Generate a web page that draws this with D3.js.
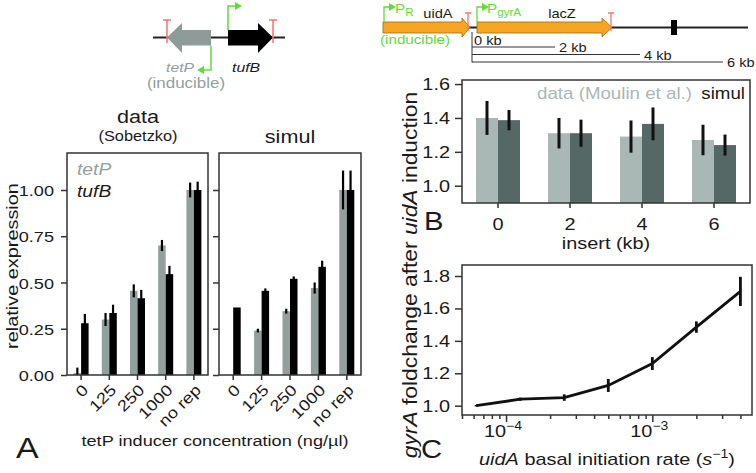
<!DOCTYPE html>
<html>
<head>
<meta charset="utf-8">
<script src="https://cdn.jsdelivr.net/npm/d3@7"></script>
<style>
  body { margin: 0; background: #fff; }
  svg { display: block; }
  text { font-family: "Liberation Sans", Arial, Helvetica, sans-serif; }
</style>
</head>
<body>
<svg id="fig" width="756" height="473"></svg>
<script>
// ---- panel A : tetP / tufB expression ----
const concLabels = ["0", "125", "250", "1000", "no rep"];
const dataTetP = [0.01, 0.30, 0.455, 0.70, 1.00];
const dataTetPErr = [0.03, 0.035, 0.035, 0.03, 0.04];
const dataTufB = [0.28, 0.335, 0.415, 0.545, 1.00];
const dataTufBErr = [0.05, 0.045, 0.045, 0.045, 0.045];
const simTetP = [0, 0.24, 0.345, 0.47, 1.00];
const simTetPErr = [0, 0.01, 0.013, 0.03, 0.105];
const simTufB = [0.365, 0.455, 0.52, 0.585, 1.00];
const simTufBErr = [0, 0.013, 0.013, 0.033, 0.105];
const yTicksA = [0, 0.25, 0.5, 0.75, 1.0];

// ---- panel B : gyrA foldchange vs insert size ----
const insertKb = ["0", "2", "4", "6"];
const moulinData = [1.40, 1.31, 1.29, 1.27];
const moulinErr = [0.10, 0.09, 0.095, 0.09];
const simulB = [1.387, 1.31, 1.365, 1.24];
const simulBErr = [0.06, 0.08, 0.097, 0.062];
const yTicksB = [1.0, 1.2, 1.4, 1.6];

// ---- panel C : gyrA foldchange vs uidA basal rate ----
const basalRate = [6.25e-5, 1.25e-4, 2.5e-4, 5e-4, 1e-3, 2e-3, 4e-3];
const gyrAFold = [1.0, 1.04, 1.05, 1.125, 1.26, 1.485, 1.705];
const gyrAErr = [0.005, 0.01, 0.02, 0.04, 0.04, 0.035, 0.09];
const yTicksC = [1.0, 1.2, 1.4, 1.6, 1.8];
const majorC = [1e-4, 1e-3];

const svg = d3.select("#fig");
const INK = "#1a1a1a", FRAME = "#333";
const GRAY_A = "#92a09d", LIGHT_B = "#a9b8b5", DARK_B = "#566866";
const GREEN = "#5fdc3c", RED = "#ff7070", ORANGE = "#f6a623";
const SX = 1.17; // text in the figure is set wide

function txt(g, x, y, parts, o = {}) {
  const t = g.append("text")
    .attr("transform", `translate(${x},${y}) rotate(${o.rot || 0}) scale(${SX},1)`)
    .attr("text-anchor", o.anchor || "start")
    .attr("font-size", o.size || 16)
    .attr("fill", o.fill || INK);
  let shift = 0;
  (Array.isArray(parts) ? parts : [parts]).forEach(p => {
    if (typeof p === "string") p = { s: p };
    const target = p.up ? -p.up : (p.down || 0);
    const span = t.append("tspan").text(p.s).attr("dy", target - shift);
    shift = target;
    if (p.it) span.attr("font-style", "italic");
    if (p.size) span.attr("font-size", p.size);
  });
  return t;
}

function frame(g, x0, x1, y0, y1) {
  g.append("rect").attr("x", x0).attr("y", y0)
    .attr("width", x1 - x0).attr("height", y1 - y0)
    .attr("fill", "none").attr("stroke", FRAME).attr("stroke-width", 1.5);
}

function styleAxis(sel) {
  sel.select(".domain").remove();
  sel.selectAll(".tick line").attr("stroke", FRAME).attr("stroke-width", 1.5);
  sel.selectAll(".tick text").remove();
}

function tri(g, x, y, dir, col) {
  const s = 4;
  const pts = dir > 0
    ? [[x, y - s], [x + 7, y], [x, y + s]]
    : [[x, y - s], [x - 7, y], [x, y + s]];
  g.append("polygon").attr("points", pts.join(" ")).attr("fill", col);
}

// ================= panel A =================
const gA = svg.append("g");
const yA = d3.scaleLinear().domain([0, 1.2]).range([375, 153]);

const panelsA = [
  { x0: 67, x1: 208, tet: dataTetP, tetE: dataTetPErr, tuf: dataTufB, tufE: dataTufBErr, labels: true },
  { x0: 219, x1: 361, tet: simTetP, tetE: simTetPErr, tuf: simTufB, tufE: simTufBErr, labels: false }
];

panelsA.forEach(p => {
  const x = d3.scaleBand().domain(concLabels).range([p.x0, p.x1]);
  const xs = d3.scaleBand().domain(["tetP", "tufB"]).range([-7.5, 7.5]);
  const cx = i => x(concLabels[i]) + x.bandwidth() / 2;
  const series = [["tetP", p.tet, p.tetE, GRAY_A], ["tufB", p.tuf, p.tufE, "#000"]];

  series.forEach(([key, vals, errs, col]) => {
    gA.append("g").selectAll("rect").data(vals).join("rect")
      .attr("x", (d, i) => cx(i) + xs(key))
      .attr("width", xs.bandwidth())
      .attr("y", d => yA(d))
      .attr("height", d => yA(0) - yA(d))
      .attr("fill", col);
  });
  series.forEach(([key, vals, errs]) => {
    gA.append("g").selectAll("line").data(vals.map((v, i) => ({ v, e: errs[i], i })).filter(d => d.e > 0))
      .join("line")
      .attr("x1", d => cx(d.i) + xs(key) + xs.bandwidth() / 2)
      .attr("x2", d => cx(d.i) + xs(key) + xs.bandwidth() / 2)
      .attr("y1", d => yA(Math.max(0, d.v - d.e)))
      .attr("y2", d => yA(d.v + d.e))
      .attr("stroke", "#000").attr("stroke-width", 2.2);
  });

  frame(gA, p.x0, p.x1, 153, 375);

  gA.append("g").attr("transform", `translate(${p.x0},0)`)
    .call(d3.axisLeft(yA).tickValues(yTicksA).tickSize(6))
    .call(styleAxis);
  gA.append("g").attr("transform", "translate(0,375)")
    .call(d3.axisBottom(x).tickSize(5))
    .call(styleAxis);

  if (p.labels) {
    yTicksA.forEach(v => txt(gA, 54, yA(v) + 6, d3.format(".2f")(v), { anchor: "end", size: 15.5 }));
  }
  concLabels.forEach((lab, i) => txt(gA, cx(i) + 8, 391, lab, { rot: -45, anchor: "end", size: 15.7 }));
});

txt(gA, 138, 123, "data", { anchor: "middle", size: 18.5 });
txt(gA, 138, 141, "(Sobetzko)", { anchor: "middle", size: 14 });
txt(gA, 290, 143, "simul", { anchor: "middle", size: 18.5 });
txt(gA, 77, 175, { s: "tetP", it: true }, { size: 16.5, fill: GRAY_A });
txt(gA, 77, 197, { s: "tufB", it: true }, { size: 16.5 });
txt(gA, 18, 266, "relative expression", { rot: -90, anchor: "middle", size: 17 });
txt(gA, 215, 446, "tetP inducer concentration (ng/\u00b5l)", { anchor: "middle", size: 15.5 });
txt(gA, 16, 458, "A", { size: 29 });

// gene diagram A
const dA = svg.append("g");
dA.append("line").attr("x1", 153).attr("x2", 285).attr("y1", 37.5).attr("y2", 37.5)
  .attr("stroke", "#222").attr("stroke-width", 2);
dA.append("polygon").attr("points", "167,37.5 182,23 182,30 211,30 211,45.5 182,45.5 182,53").attr("fill", "#8f9b99");
dA.append("polygon").attr("points", "228,30 258,30 258,23 273,37.5 258,53 258,45.5 228,45.5").attr("fill", "#000");
[167, 273].forEach(x => {
  dA.append("path").attr("d", `M${x},43V20M${x - 4},20H${x + 4}`).attr("stroke", RED).attr("stroke-width", 1.5).attr("fill", "none");
});
dA.append("path").attr("d", "M228,30V6H236").attr("stroke", GREEN).attr("stroke-width", 1.5).attr("fill", "none");
tri(dA, 235, 6, 1, GREEN);
dA.append("path").attr("d", "M211,45.5V70H203").attr("stroke", GREEN).attr("stroke-width", 1.5).attr("fill", "none");
tri(dA, 204, 70, -1, GREEN);
txt(dA, 166, 72, { s: "tetP", it: true }, { size: 13.5, fill: GRAY_A });
txt(dA, 186, 88, "(inducible)", { anchor: "middle", size: 14.5, fill: GRAY_A });
txt(dA, 232, 72, { s: "tufB", it: true }, { size: 13.5 });

// ================= panel B =================
const gB = svg.append("g");
const xB = d3.scaleBand().domain(insertKb).range([462, 750]);
const xsB = d3.scaleBand().domain(["data", "simul"]).range([-22, 22]);
const yB = d3.scaleLinear().domain([0.898, 1.624]).range([203, 80]);
const seriesB = [["data", moulinData, moulinErr, LIGHT_B], ["simul", simulB, simulBErr, DARK_B]];
const cxB = i => xB(insertKb[i]) + xB.bandwidth() / 2;

seriesB.forEach(([key, vals, errs, col]) => {
  gB.append("g").selectAll("rect").data(vals).join("rect")
    .attr("x", (d, i) => cxB(i) + xsB(key))
    .attr("width", xsB.bandwidth())
    .attr("y", d => yB(d))
    .attr("height", d => yB.range()[0] - yB(d))
    .attr("fill", col);
});
seriesB.forEach(([key, vals, errs]) => {
  gB.append("g").selectAll("line").data(vals).join("line")
    .attr("x1", (d, i) => cxB(i) + xsB(key) + xsB.bandwidth() / 2)
    .attr("x2", (d, i) => cxB(i) + xsB(key) + xsB.bandwidth() / 2)
    .attr("y1", (d, i) => yB(d - errs[i]))
    .attr("y2", (d, i) => yB(d + errs[i]))
    .attr("stroke", "#111").attr("stroke-width", 3);
});
frame(gB, 462, 750, 80, 203);
gB.append("g").attr("transform", "translate(462,0)")
  .call(d3.axisLeft(yB).tickValues(yTicksB).tickSize(7)).call(styleAxis);
gB.append("g").attr("transform", "translate(0,203)")
  .call(d3.axisBottom(xB).tickSize(5)).call(styleAxis);
yTicksB.forEach(v => txt(gB, 450, yB(v) + 6, d3.format(".1f")(v), { anchor: "end", size: 17 }));
insertKb.forEach((k, i) => txt(gB, cxB(i), 230, k, { anchor: "middle", size: 17 }));
txt(gB, 606, 249, "insert (kb)", { anchor: "middle", size: 17 });
txt(gB, 692, 99, "data (Moulin et al.)", { anchor: "end", size: 16, fill: LIGHT_B });
txt(gB, 745, 99, "simul", { anchor: "end", size: 16 });
txt(gB, 424, 230, "B", { size: 25 });

// gene diagram B
const dB = svg.append("g");
dB.append("line").attr("x1", 383).attr("x2", 748).attr("y1", 27.5).attr("y2", 27.5)
  .attr("stroke", "#222").attr("stroke-width", 2);
[[383, 462, 470], [477, 602, 612]].forEach(([a, b, tip]) => {
  dB.append("polygon")
    .attr("points", `${a},22 ${b},22 ${b},18 ${tip},27.5 ${b},37 ${b},33 ${a},33`)
    .attr("fill", ORANGE).attr("stroke", "#a26a0c").attr("stroke-width", 0.8);
});
[468, 611].forEach(x => {
  dB.append("path").attr("d", `M${x},31V13M${x - 3},13H${x + 3}`).attr("stroke", RED).attr("stroke-width", 1.3).attr("fill", "none");
});
dB.append("rect").attr("x", 671).attr("y", 20).attr("width", 6).attr("height", 15).attr("fill", "#000");
[384, 477].forEach(x => {
  dB.append("path").attr("d", `M${x},22V7H${x + 5}`).attr("stroke", GREEN).attr("stroke-width", 1.3).attr("fill", "none");
  tri(dB, x + 5, 7, 1, GREEN);
});
txt(dB, 395, 13, ["P", { s: "R", down: 3, size: 10 }], { size: 13, fill: GREEN });
txt(dB, 487, 13, ["P", { s: "gyrA", down: 3, size: 10 }], { size: 13, fill: GREEN });
txt(dB, 380, 44, "(inducible)", { size: 13, fill: GREEN });
txt(dB, 438, 18, "uidA", { anchor: "middle", size: 12.5 });
txt(dB, 562, 18, "lacZ", { anchor: "middle", size: 12.5 });
dB.append("path").attr("d", "M472,32V62.5").attr("stroke", "#333").attr("stroke-width", 1);
[[47, 555, "2 kb", 52], [54.5, 640, "4 kb", 59.5], [62, 723, "6 kb", 67]].forEach(([y, x2, lab, by]) => {
  dB.append("line").attr("x1", 472).attr("x2", x2).attr("y1", y).attr("y2", y).attr("stroke", "#333").attr("stroke-width", 1);
  txt(dB, x2 + 4, by, lab, { size: 12.5 });
});
txt(dB, 474, 45, "0 kb", { size: 12.5 });

// ================= panel C =================
const gC = svg.append("g");
const xC = d3.scaleLog().domain([5e-5, 4.8e-3]).range([462, 752]);
const yC = d3.scaleLinear().domain([0.9426, 1.868]).range([415, 265]);
const minorC = [];
[-5, -4, -3].forEach(e => d3.range(2, 10).forEach(m => {
  const v = m * Math.pow(10, e);
  if (v >= xC.domain()[0] && v <= xC.domain()[1]) minorC.push(v);
}));

gC.append("path")
  .datum(basalRate.map((r, i) => [r, gyrAFold[i]]))
  .attr("d", d3.line().x(d => xC(d[0])).y(d => yC(d[1])))
  .attr("fill", "none").attr("stroke", "#111").attr("stroke-width", 2.8);
gC.append("g").selectAll("line").data(basalRate).join("line")
  .attr("x1", d => xC(d)).attr("x2", d => xC(d))
  .attr("y1", (d, i) => yC(gyrAFold[i] - gyrAErr[i]))
  .attr("y2", (d, i) => yC(gyrAFold[i] + gyrAErr[i]))
  .attr("stroke", "#111").attr("stroke-width", 2.8);
frame(gC, 462, 752, 265, 415);
gC.append("g").attr("transform", "translate(462,0)")
  .call(d3.axisLeft(yC).tickValues(yTicksC).tickSize(7)).call(styleAxis);
gC.append("g").attr("transform", "translate(0,415)")
  .call(d3.axisBottom(xC).tickValues(minorC).tickSize(4)).call(styleAxis);
gC.append("g").attr("transform", "translate(0,415)")
  .call(d3.axisBottom(xC).tickValues(majorC).tickSize(7)).call(styleAxis);
yTicksC.forEach(v => txt(gC, 450, yC(v) + 6, d3.format(".1f")(v), { anchor: "end", size: 17 }));
majorC.forEach(v => txt(gC, xC(v) - 3, 437, ["10", { s: "\u2212" + Math.round(-Math.log10(v)), up: 7, size: 12 }], { anchor: "middle", size: 17 }));
txt(gC, 607, 465, [{ s: "uidA", it: true }, " basal initiation rate (", { s: "s", it: true },
  { s: "\u22121", up: 7, size: 12 }, ")"], { anchor: "middle", size: 17 });
txt(gC, 421, 458, "C", { size: 25 });

// shared y label for B and C
txt(svg, 417, 275, [{ s: "gyrA", it: true }, " foldchange after ", { s: "uidA", it: true }, " induction"],
  { rot: -90, anchor: "middle", size: 19.5 });
</script>
</body>
</html>
